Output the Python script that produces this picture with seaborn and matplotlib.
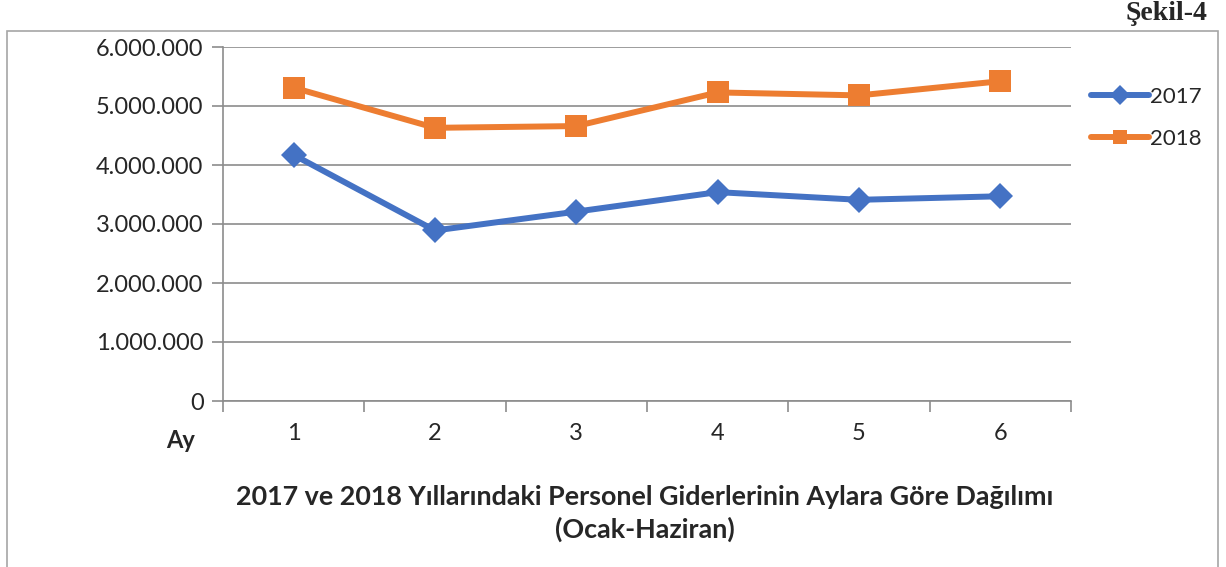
import numpy as np
import pandas as pd
import matplotlib
matplotlib.use("Agg")
import matplotlib.pyplot as plt
from matplotlib.patches import Rectangle
from matplotlib.ticker import FuncFormatter, MultipleLocator
import seaborn as sns

# data (TL)
months = [1, 2, 3, 4, 5, 6]
giderler_2017 = [4170000, 2890000, 3210000, 3540000, 3410000, 3470000]
giderler_2018 = [5310000, 4630000, 4660000, 5230000, 5180000, 5420000]
years = ["2017", "2018"]

df = pd.DataFrame({
    "Ay": months * 2,
    "Gider": giderler_2017 + giderler_2018,
    "Yil": [years[0]] * 6 + [years[1]] * 6,
})

sns.set_theme(style="white")
plt.rcParams["font.family"] = ["Lato", "DejaVu Sans"]

fig = plt.figure(figsize=(12.26, 5.67), dpi=100)
ax = fig.add_axes([223 / 1226, 1 - 401 / 567, (1071 - 223) / 1226, (401 - 47) / 567])

palette = {"2017": "#4472C4", "2018": "#ED7D31"}
markers = {"2017": "D", "2018": "s"}
sizes = {"2017": 13, "2018": 16}

for yil in years:
    sub = df[df["Yil"] == yil]
    sns.lineplot(data=sub, x="Ay", y="Gider", ax=ax, color=palette[yil],
                 marker=markers[yil], markersize=sizes[yil], markeredgewidth=0,
                 linewidth=4.3, label=yil, legend=False)

ax.set_xlim(0.5, 6.5)
ax.set_ylim(0, 6000000)
ax.yaxis.set_major_locator(MultipleLocator(1000000))
ax.yaxis.set_major_formatter(FuncFormatter(lambda v, p: f"{int(v):,}".replace(",", ".")))
ax.set_xticks(months)
ax.set_xticks(np.arange(0.5, 7, 1), minor=True)

ax.grid(axis="y", color="#8C8C8C", linewidth=1.2)
ax.set_axisbelow(True)
for side in ["top", "right"]:
    ax.spines[side].set_visible(False)
for side in ["left", "bottom"]:
    ax.spines[side].set_color("#8C8C8C")
    ax.spines[side].set_linewidth(1.2)

ax.tick_params(axis="y", which="major", direction="out", length=8, width=1.2,
               color="#8C8C8C", labelsize=17, pad=6, left=True)
ax.tick_params(axis="x", which="major", length=0, labelsize=17, pad=16)
ax.tick_params(axis="x", which="minor", direction="out", length=8, width=1.2,
               color="#8C8C8C", bottom=True)
ax.set_xlabel("")
ax.set_ylabel("")

# "Ay" label left of the month labels
fig.text(181 / 1226, 1 - 440 / 567, "Ay", fontsize=17, fontweight="bold",
         ha="center", va="center")

# legend on the right
handles, labels = ax.get_legend_handles_labels()
leg = fig.legend(handles, labels, loc="upper left", bbox_to_anchor=(1082 / 1226, 1 - 78 / 567),
                 frameon=False, fontsize=16, handlelength=2.6, labelspacing=1.0,
                 handletextpad=0.05, borderaxespad=0)
for h in leg.legend_handles:
    h.set_markersize(10)

fig.text(645 / 1226, 1 - 497 / 567, "2017 ve 2018 Yıllarındaki Personel Giderlerinin Aylara Göre Dağılımı",
         fontsize=19.4, fontweight="bold", ha="center", va="center")
fig.text(645 / 1226, 1 - 529 / 567, "(Ocak-Haziran)",
         fontsize=19.4, fontweight="bold", ha="center", va="center")

fig.text(1207 / 1226, 1 - 13 / 567, "Şekil-4", fontsize=20, fontweight="bold",
         family=["Liberation Serif", "DejaVu Serif"], ha="right", va="center")

# outer chart frame
fig.patches.append(Rectangle((7 / 1226, -0.01), (1218 - 7) / 1226, 1 - 31 / 567 + 0.01,
                             transform=fig.transFigure, fill=False,
                             edgecolor="#A6A6A6", linewidth=1.2))

fig.savefig("out.png", dpi=100)
